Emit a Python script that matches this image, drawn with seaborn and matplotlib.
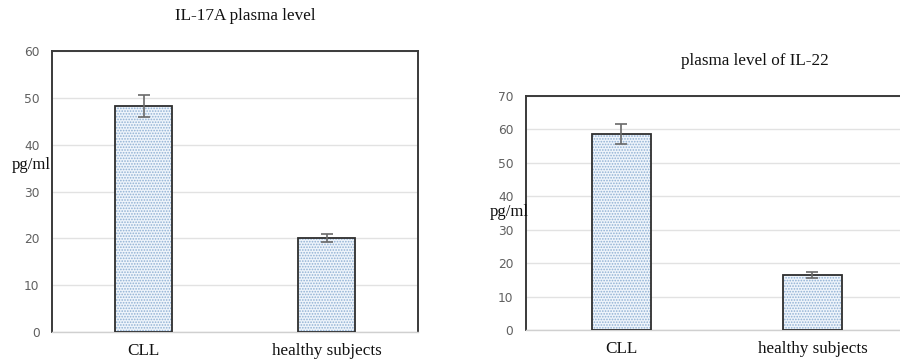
import matplotlib
matplotlib.use("Agg")
import matplotlib.pyplot as plt
import seaborn as sns
import pandas as pd
from matplotlib.patches import Rectangle

# ── Data ──────────────────────────────────────────────────────────────────────
groups      = ["CLL", "healthy subjects"]
il17a_mean  = [48.3, 20.1]
il17a_err   = [2.4, 0.9]
il22_mean   = [58.6, 16.4]
il22_err    = [3.0, 0.9]

sns.set_style("white")
plt.rcParams["font.family"] = ["Liberation Serif", "DejaVu Serif"]
plt.rcParams["hatch.linewidth"] = 0.8

fig = plt.figure(figsize=(9, 3.64), dpi=100)
ax1 = fig.add_axes([0.0578, 0.0879, 0.4067, 0.772])
ax2 = fig.add_axes([0.5844, 0.0934, 0.4244, 0.643])

FILL  = "#eef4fb"
DOTS  = "#8fb0d3"
EDGE  = "#2e2e2e"


def draw_panel(ax, means, errs, ymax):
    df = pd.DataFrame({"group": groups, "value": means})
    sns.barplot(data=df, x="group", y="value", ax=ax, width=0.31,
                color=FILL, errorbar=None, zorder=2)
    for p in list(ax.patches):
        p.set_facecolor(FILL)
        p.set_edgecolor(DOTS)
        p.set_hatch("......")
        p.set_linewidth(0)
        ax.add_patch(Rectangle(p.get_xy(), p.get_width(), p.get_height(),
                               fill=False, edgecolor=EDGE, lw=1.3, zorder=3))
    ax.errorbar(x=range(len(means)), y=means, yerr=errs, fmt="none",
                ecolor="#6a6a6a", elinewidth=1.2, capsize=4, capthick=1.2,
                zorder=4)
    ax.set_ylim(0, ymax)
    ax.set_xlim(-0.5, 1.5)
    ax.set_yticks(range(0, ymax + 1, 10))
    ax.yaxis.grid(True, color="#e2e2e2", lw=1)
    ax.set_axisbelow(True)
    ax.set_xlabel("")
    ax.set_ylabel("")
    ax.tick_params(axis="y", length=0, pad=9, labelsize=8.8,
                   labelcolor="#606060")
    for t in ax.get_yticklabels():
        t.set_family("DejaVu Sans")
    ax.tick_params(axis="x", length=0, pad=8, labelsize=12.3,
                   labelcolor="#111111")
    for side in ["left", "top", "right"]:
        ax.spines[side].set_color("#3a3a3a")
        ax.spines[side].set_linewidth(1.4)
    ax.spines["bottom"].set_color("#d0d0d0")
    ax.spines["bottom"].set_linewidth(1)


draw_panel(ax1, il17a_mean, il17a_err, 60)
draw_panel(ax2, il22_mean, il22_err, 70)

fig.text(245 / 900, 1 - 16 / 364, "IL-17A plasma level", ha="center",
         va="center", fontsize=12.3, color="#111111")
fig.text(755 / 900, 1 - 61 / 364, "plasma level of IL-22", ha="center",
         va="center", fontsize=12.3, color="#111111")
fig.text(31 / 900, 1 - 165 / 364, "pg/ml", ha="center", va="center",
         fontsize=12, color="#111111")
fig.text(509 / 900, 1 - 212 / 364, "pg/ml", ha="center", va="center",
         fontsize=12, color="#111111")

fig.savefig("out.png", dpi=100)
plt.close(fig)
